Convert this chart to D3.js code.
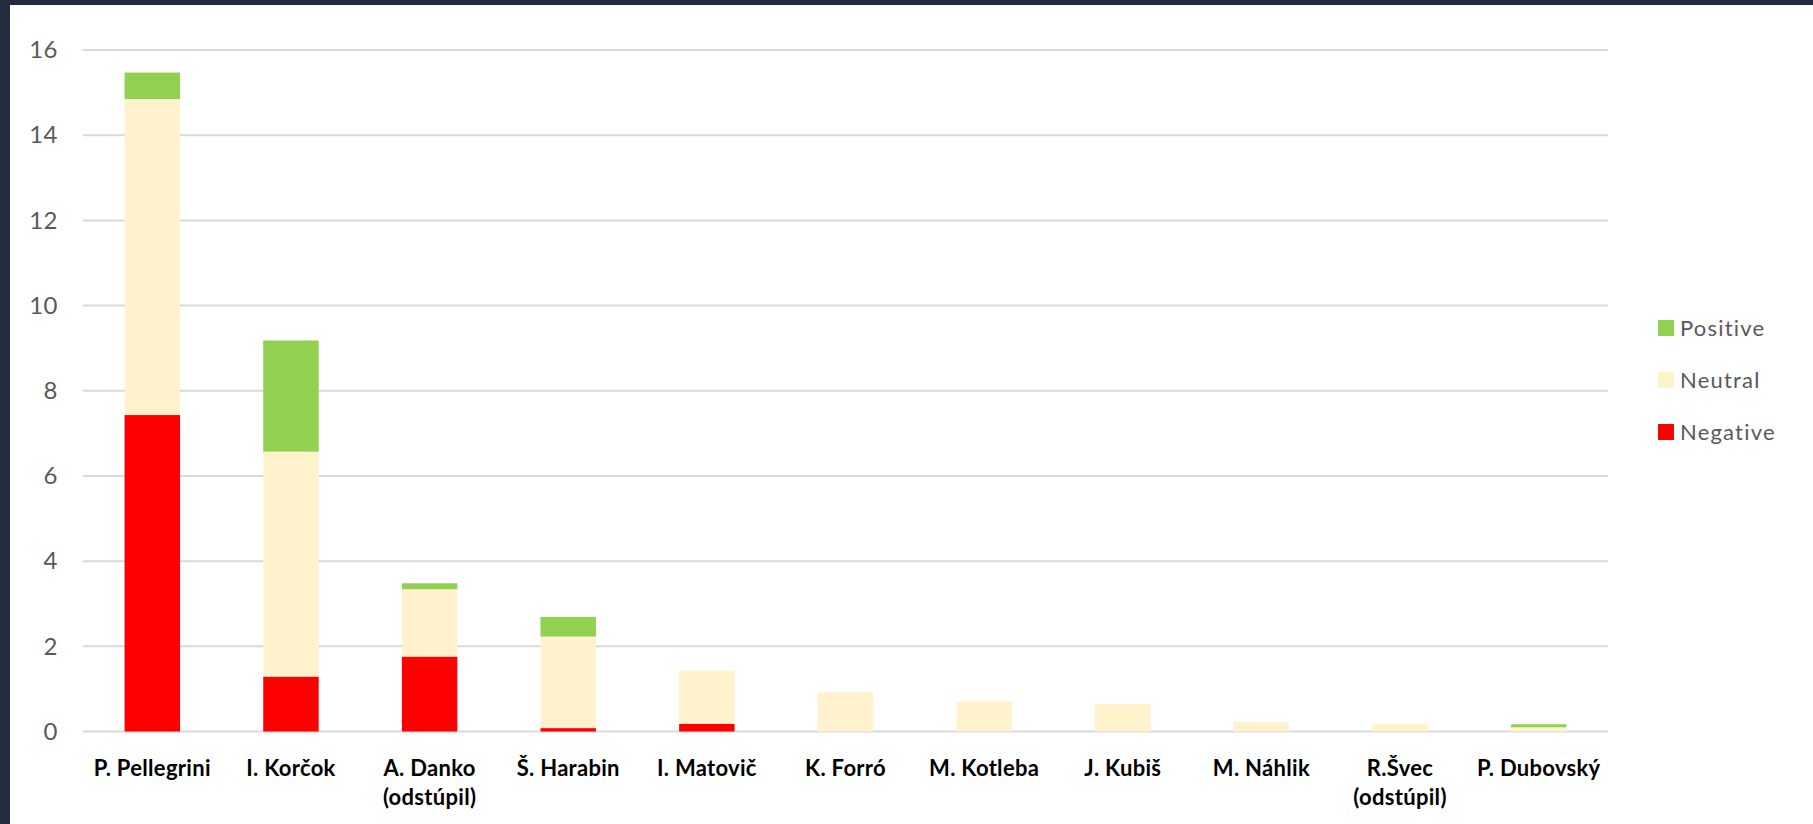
<!DOCTYPE html>
<html>
<head>
<meta charset="utf-8">
<script src="https://cdn.jsdelivr.net/npm/d3@7"></script>
<style>
  html, body { margin: 0; padding: 0; background: #242c40; }
  svg { display: block; }
  text { font-family: Lato, "Open Sans", sans-serif; }
</style>
</head>
<body>
<svg id="chart" width="1813" height="824"></svg>
<script>
const categories = ["P. Pellegrini", "I. Korčok", "A. Danko\n(odstúpil)", "Š. Harabin", "I. Matovič",
  "K. Forró", "M. Kotleba", "J. Kubiš", "M. Náhlik", "R.Švec\n(odstúpil)", "P. Dubovský"];
const negative = [7.43, 1.29, 1.76, 0.08, 0.18, 0, 0, 0, 0, 0, 0];
const neutral  = [7.42, 5.28, 1.58, 2.15, 1.25, 0.92, 0.71, 0.64, 0.22, 0.18, 0.10];
const positive = [0.62, 2.61, 0.14, 0.46, 0, 0, 0, 0, 0, 0, 0.07];
const seriesNames = ["Negative", "Neutral", "Positive"];
const yTicks = [0, 2, 4, 6, 8, 10, 12, 14, 16];
const legendOrder = ["Positive", "Neutral", "Negative"];

const colors = { Negative: "#ff0000", Neutral: "#fff2cc", Positive: "#92d050" };

const svg = d3.select("#chart");
// white panel inside dark frame
svg.append("rect").attr("x", 10).attr("y", 5).attr("width", 1803).attr("height", 819).attr("fill", "#ffffff");

const x = d3.scaleBand().domain(categories).range([83, 1608]).paddingInner(0.6).paddingOuter(0.3);
const y = d3.scaleLinear().domain([0, 16]).range([731.5, 50]);

// gridlines
svg.append("g").selectAll("line").data(yTicks).join("line")
  .attr("x1", 83).attr("x2", 1608)
  .attr("y1", d => y(d)).attr("y2", d => y(d))
  .attr("stroke", "#d9d9d9").attr("stroke-width", 2);

// y axis labels
const yAxis = d3.axisLeft(y).tickValues(yTicks).tickSize(0).tickPadding(0);
const yg = svg.append("g").attr("transform", "translate(58,0)").call(yAxis);
yg.select(".domain").remove();
yg.selectAll("text").attr("font-family", "Lato, sans-serif").attr("font-size", 24)
  .attr("letter-spacing", 0.5).attr("fill", "#595959");

// stacked data
const table = categories.map((c, i) => ({ cat: c, Negative: negative[i], Neutral: neutral[i], Positive: positive[i] }));
const stack = d3.stack().keys(seriesNames)(table);

svg.append("g").selectAll("g").data(stack).join("g")
  .attr("fill", d => colors[d.key])
  .selectAll("rect").data(d => d).join("rect")
  .attr("x", d => x(d.data.cat))
  .attr("width", x.bandwidth())
  .attr("y", d => y(d[1]))
  .attr("height", d => Math.max(0, y(d[0]) - y(d[1])));

// x axis labels
const xAxis = d3.axisBottom(x).tickSize(0).tickPadding(0);
const xg = svg.append("g").attr("transform", "translate(0,731.5)").call(xAxis);
xg.select(".domain").remove();
xg.selectAll("text").each(function(d) {
  const t = d3.select(this);
  t.text(null).attr("y", 0).attr("dy", null)
    .attr("font-family", "Lato, sans-serif").attr("font-size", 22)
    .attr("letter-spacing", 0.3)
    .attr("font-weight", "bold").attr("fill", "#000");
  d.split("\n").forEach((line, i) => {
    t.append("tspan").attr("x", 0).attr("y", 44 + i * 29).text(line);
  });
});

// legend
const lg = svg.append("g").selectAll("g").data(legendOrder).join("g")
  .attr("transform", (d, i) => `translate(1658, ${328 + i * 52})`);
lg.append("rect").attr("x", 0).attr("y", -8).attr("width", 16).attr("height", 16).attr("fill", d => colors[d]);
lg.append("text").attr("x", 22).attr("y", 0).attr("dy", "0.35em")
  .attr("font-size", 22).attr("fill", "#595959").attr("letter-spacing", 1.2).text(d => d);
</script>
</body>
</html>
